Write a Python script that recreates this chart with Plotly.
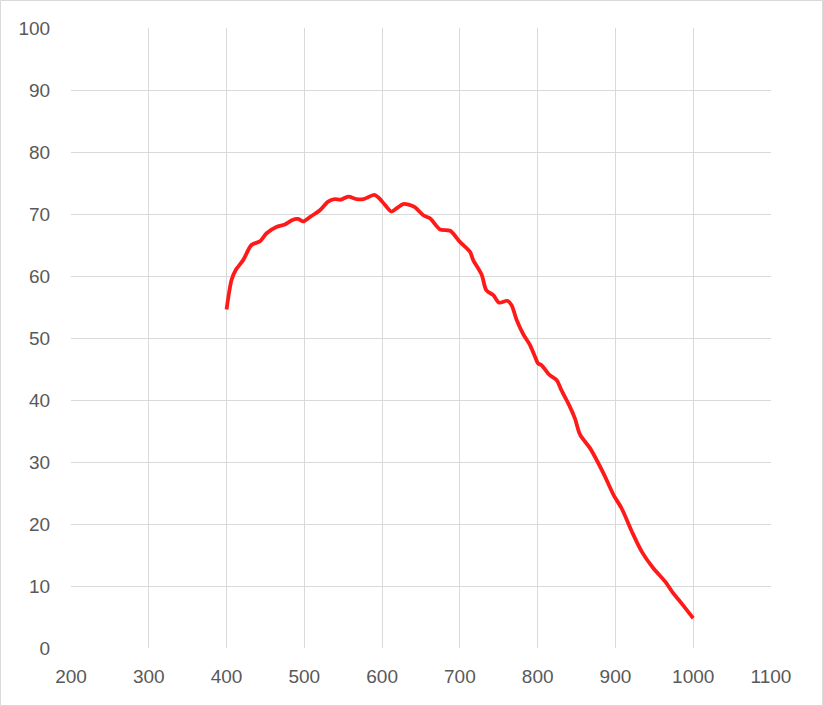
import plotly.graph_objects as go

wavelength = [400, 406.5, 412, 421.5, 432, 443, 451.5, 464, 475, 484, 492, 498.5, 507, 520,
              530.5, 539, 546.5, 556.5, 567, 576, 582, 590, 595, 603.5, 612, 618.5, 627,
              634, 642, 653, 661.5, 674.5, 687.5, 700, 713, 717, 728, 734, 743, 750.5,
              761, 766.5, 773, 781.5, 790, 796.5, 800.5, 805, 815.5, 824.5, 830.5, 841.5,
              848, 854.5, 867.5, 884.5, 897.5, 908, 921, 934, 948.5, 964, 974.5, 985, 1000]
values = [54.6, 59.4, 61.0, 62.6, 65.0, 65.6, 66.9, 67.9, 68.3, 69.0, 69.2, 68.8, 69.5, 70.6,
          72.0, 72.4, 72.3, 72.8, 72.4, 72.4, 72.7, 73.1, 72.7, 71.5, 70.4, 70.9, 71.6,
          71.5, 71.1, 69.8, 69.3, 67.5, 67.3, 65.5, 63.9, 62.6, 60.2, 57.7, 56.9, 55.7,
          56.0, 55.3, 52.9, 50.6, 48.9, 47.0, 45.9, 45.6, 44.0, 43.2, 41.6, 38.9,
          37.0, 34.4, 32.2, 28.2, 24.7, 22.5, 18.8, 15.5, 12.9, 10.7, 8.8, 7.2, 4.8]

x_ticks = [200, 300, 400, 500, 600, 700, 800, 900, 1000, 1100]
y_ticks = [0, 10, 20, 30, 40, 50, 60, 70, 80, 90, 100]

fig = go.Figure()
fig.add_trace(go.Scatter(x=wavelength, y=values, mode="lines",
                         line=dict(color="#ff1a1a", width=3.8, shape="spline", smoothing=0.8),
                         showlegend=False, hoverinfo="skip"))

W, H = 823, 706
L, R, T, B = 71, 52, 28, 58
pw, ph = W - L - R, H - T - B

fig.update_layout(
    width=W, height=H,
    margin=dict(l=L, r=R, t=T, b=B, pad=0),
    paper_bgcolor="white", plot_bgcolor="white",
    font=dict(family="Liberation Sans, Arial, sans-serif", size=19, color="#595959"),
    xaxis=dict(range=[200, 1100], tickvals=x_ticks, showgrid=True, gridcolor="#d9d9d9",
               gridwidth=1.3, zeroline=False, showline=False, ticks="outside",
               ticklen=11, tickcolor="rgba(0,0,0,0)"),
    yaxis=dict(range=[0, 100], tickvals=y_ticks, showgrid=True, gridcolor="#d9d9d9",
               gridwidth=1.3, zeroline=False, showline=False, ticks="outside",
               ticklen=16, tickcolor="rgba(0,0,0,0)"),
    shapes=[dict(type="rect", xref="paper", yref="paper",
                 x0=(0.5 - L) / pw, x1=(W - 0.5 - L) / pw,
                 y0=(H - B - (H - 0.5)) / ph, y1=(H - B - 0.5) / ph,
                 line=dict(color="#d9d9d9", width=1), layer="below")],
)

fig.write_html("out.html", config={"displayModeBar": False},
               post_script="document.body.style.margin='0';")
